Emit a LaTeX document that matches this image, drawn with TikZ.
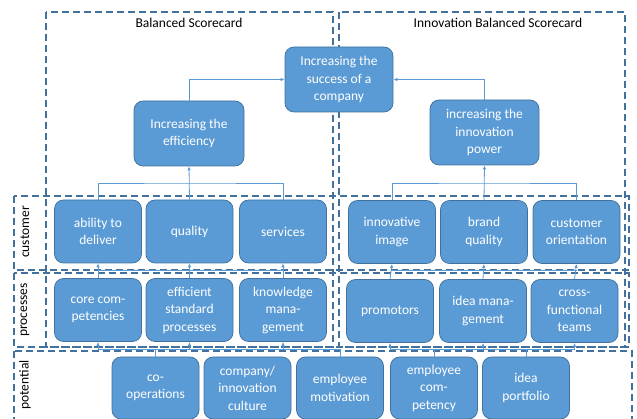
\documentclass[tikz,border=0pt]{standalone}
\usepackage{fontspec}
\setmainfont{Carlito}
\usetikzlibrary{arrows.meta}
\definecolor{cardfill}{HTML}{5B9BD5}
\definecolor{cardline}{HTML}{41719C}
\begin{document}
\begin{tikzpicture}[x=1pt,y=1pt,
  card/.style={draw=cardline, line width=0.75pt, fill=cardfill, rounded corners=9pt,
    text=white, align=center, inner sep=2pt, minimum width=87pt, minimum height=63pt,
    font=\fontsize{13.5}{17.5}\selectfont},
  frame/.style={draw=cardline, line width=1.4pt, dash pattern=on 7pt off 4pt},
  link/.style={draw=cardfill, line width=0.8pt},
  arrow/.style={link, -{Latex[length=4pt,width=3.5pt]}},
  label/.style={font=\fontsize{13.5}{17.5}\selectfont, text=black}]
\useasboundingbox (0,0) rectangle (637,-419);
% dashed frames
\draw[frame] (46,-12) rectangle (333,-347);
\draw[frame] (339,-12) rectangle (625,-347);
\draw[frame] (14,-196) rectangle (629,-270);
\draw[frame] (14,-273) rectangle (629,-347);
\draw[frame] (14,-351) rectangle (632,-430);
\node[label] (bsc) at (189,-23) {Balanced Scorecard};
\node[label] (ibsc) at (498,-23) {Innovation Balanced Scorecard};
\node[label, rotate=90] (lcust) at (25,-232) {customer};
\node[label, rotate=90] (lproc) at (25,-310) {processes};
\node[label, rotate=90] (lpot) at (25,-385) {potential};
% goals
\node[card, minimum width=108pt, minimum height=65pt] (succ) at (339,-79.5) {Increasing the\\success of a\\company};
\node[card, minimum width=110pt, minimum height=65pt] (eff) at (189,-133.5) {Increasing the\\efficiency};
\node[card, minimum width=109pt, minimum height=65pt] (inno) at (484.5,-132.5) {increasing the\\innovation\\power};
% customer
\node[card] (ability) at (98,-231.5) {ability to\\deliver};
\node[card] (quality) at (189.5,-231.5) {quality};
\node[card] (services) at (283,-231.5) {services};
\node[card] (image) at (392,-232) {innovative\\image};
\node[card] (brand) at (484,-232) {brand\\quality};
\node[card] (orient) at (576.5,-232) {customer\\orientation};
% processes
\node[card] (core) at (98,-310) {core com-\\petencies};
\node[card] (std) at (189.5,-310) {efficient\\standard\\processes};
\node[card] (know) at (283,-310) {knowledge\\mana-\\gement};
\node[card] (promo) at (390,-311) {promotors};
\node[card] (ideaman) at (483,-311) {idea mana-\\gement};
\node[card] (cross) at (574.5,-311) {cross-\\functional\\teams};
% potential
\node[card, minimum height=62pt] (coop) at (155.5,-388) {co-\\operations};
\node[card, minimum height=62pt] (culture) at (247.5,-388) {company/\\innovation\\culture};
\node[card, minimum height=62pt] (motiv) at (340,-388) {employee\\motivation};
\node[card, minimum height=62pt] (compet) at (434,-388) {employee\\com-\\petency};
\node[card, minimum height=62pt] (portf) at (526,-388) {idea\\portfolio};
% connectors
\coordinate (busT) at (0,-183);
\coordinate (busM) at (0,-270.5);
\coordinate (busB) at (0,-349);
\draw[arrow] (eff.north) |- (succ.west);
\draw[arrow] (inno.north) |- (succ.east);
\draw[link] (ability.north) |- (quality.north |- busT) -| (services.north);
\draw[arrow] (quality.north) -- (eff.south);
\draw[link] (image.north) |- (brand.north |- busT) -| (orient.north);
\draw[arrow] (brand.north) -- (inno.south);
\draw[link] (ability.south |- busM) -- (services.south |- busM);
\draw[link] (image.south |- busM) -- (orient.south |- busM);
\foreach \n/\m in {core/ability,std/quality,know/services,promo/image,ideaman/brand,cross/orient}
  \draw[arrow] (\n.north) -- (\m.south);
\draw[link] (core.south |- busB) -- (motiv.north |- busB);
\draw[link] (promo.south |- busB) -- (cross.south |- busB);
\foreach \n in {coop,motiv,compet,portf}
  \draw[link] (\n.north) -- (\n.north |- busB);
\foreach \n in {core,std,know,promo,ideaman,cross}
  \draw[arrow] (\n.south |- busB) -- (\n.south);
\end{tikzpicture}
\end{document}
